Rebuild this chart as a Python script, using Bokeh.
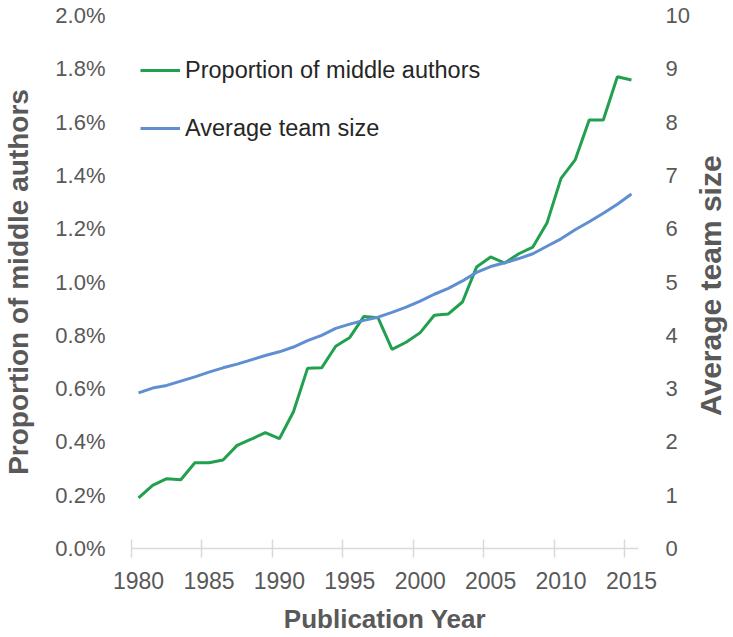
import math
from bokeh.plotting import figure
from bokeh.layouts import row
from bokeh.models import (Range1d, LinearAxis, FixedTicker, Legend, LegendItem,
                          CustomJSTickFormatter)
from bokeh.core.properties import value
from bokeh.embed import file_html
from bokeh.resources import INLINE

# ---- data ----
years = list(range(1980, 2016))
middle_author_pct = [0.190, 0.237, 0.262, 0.258, 0.322, 0.322, 0.332, 0.387, 0.410, 0.435,
                     0.412, 0.513, 0.676, 0.678, 0.759, 0.792, 0.871, 0.866, 0.747, 0.774,
                     0.810, 0.875, 0.880, 0.925, 1.056, 1.094, 1.071, 1.106, 1.131, 1.221,
                     1.389, 1.458, 1.608, 1.608, 1.770, 1.758]
avg_team_size = [2.92, 3.01, 3.06, 3.14, 3.22, 3.31, 3.39, 3.46, 3.54, 3.62,
                 3.69, 3.78, 3.90, 4.00, 4.13, 4.21, 4.28, 4.34, 4.43, 4.53,
                 4.64, 4.77, 4.88, 5.02, 5.18, 5.29, 5.36, 5.44, 5.53, 5.67,
                 5.81, 5.98, 6.13, 6.29, 6.46, 6.65]
x_tick_years = [1980, 1985, 1990, 1995, 2000, 2005, 2010, 2015]
left_ticks = [0.0, 0.2, 0.4, 0.6, 0.8, 1.0, 1.2, 1.4, 1.6, 1.8, 2.0]
right_ticks = [0, 1, 2, 3, 4, 5, 6, 7, 8, 9, 10]
right_axis_title = "Average team size"

GREEN = "#22A04F"
BLUE = "#5F8FD2"
LABEL_GRAY = "#595959"
AXIS_GRAY = "#D9D9D9"
FONT = "Liberation Sans"

p = figure(width=692, height=636, output_backend="svg", toolbar_location=None,
           x_range=Range1d(1979.5, 2015.5), y_range=Range1d(0, 2.0),
           x_axis_location=None, y_axis_location=None,
           min_border_left=129, min_border_right=52, min_border_top=15,
           min_border_bottom=87)
p.extra_y_ranges = {"team": Range1d(0, 10)}
p.xgrid.visible = False
p.ygrid.visible = False
p.outline_line_color = None
p.background_fill_color = "white"
p.border_fill_color = "white"

g = p.line(years, middle_author_pct, line_color=GREEN, line_width=3)
b = p.line(years, avg_team_size, line_color=BLUE, line_width=3, y_range_name="team")

# bottom axis
xaxis = LinearAxis(ticker=FixedTicker(ticks=x_tick_years,
                                      minor_ticks=[y - 0.5 for y in x_tick_years]),
                   axis_label="Publication Year")
xaxis.axis_line_color = AXIS_GRAY
xaxis.axis_line_width = 1.5
xaxis.major_tick_line_color = None
xaxis.major_tick_out = 0
xaxis.major_tick_in = 0
xaxis.minor_tick_line_color = AXIS_GRAY
xaxis.minor_tick_line_width = 1.5
xaxis.minor_tick_in = 9
xaxis.minor_tick_out = 9
xaxis.major_label_standoff = 14
xaxis.major_label_text_font = FONT
xaxis.major_label_text_font_size = "23px"
xaxis.major_label_text_color = LABEL_GRAY
xaxis.axis_label_standoff = 12
xaxis.axis_label_text_font = FONT
xaxis.axis_label_text_font_size = "26px"
xaxis.axis_label_text_font_style = "bold"
xaxis.axis_label_text_color = LABEL_GRAY
p.add_layout(xaxis, "below")

# left axis
yaxis = LinearAxis(ticker=FixedTicker(ticks=left_ticks),
                   formatter=CustomJSTickFormatter(code="return tick.toFixed(1) + '%';"),
                   axis_label="Proportion of middle authors")
yaxis.axis_line_color = None
yaxis.major_tick_line_color = None
yaxis.minor_tick_line_color = None
yaxis.major_tick_out = 0
yaxis.major_tick_in = 0
yaxis.major_label_standoff = 26
yaxis.major_label_text_font = FONT
yaxis.major_label_text_font_size = "22px"
yaxis.major_label_text_color = LABEL_GRAY
yaxis.axis_label_standoff = 18
yaxis.axis_label_text_font = FONT
yaxis.axis_label_text_font_size = "28px"
yaxis.axis_label_text_font_style = "bold"
yaxis.axis_label_text_color = LABEL_GRAY
p.add_layout(yaxis, "left")

# right axis: tick labels
raxis = LinearAxis(y_range_name="team", ticker=FixedTicker(ticks=right_ticks))
raxis.axis_line_color = None
raxis.major_tick_line_color = None
raxis.minor_tick_line_color = None
raxis.major_tick_out = 0
raxis.major_tick_in = 0
raxis.major_label_standoff = 27
raxis.major_label_text_font = FONT
raxis.major_label_text_font_size = "22px"
raxis.major_label_text_color = LABEL_GRAY
p.add_layout(raxis, "right")

legend = Legend(items=[LegendItem(label="Proportion of middle authors", renderers=[g]),
                       LegendItem(label="Average team size", renderers=[b])],
                location=(9, 405), glyph_width=40, glyph_height=30, label_height=30,
                spacing=28, padding=0, margin=0, label_standoff=5,
                border_line_color=None, background_fill_alpha=0,
                label_text_font=FONT, label_text_font_size="23.5px",
                label_text_color="#262626")
p.add_layout(legend)

# narrow strip holding the right axis title, reading bottom-to-top
t = figure(width=40, height=636, output_backend="svg", toolbar_location=None,
           x_range=Range1d(0, 1), y_range=Range1d(0, 1),
           x_axis_location=None, y_axis_location=None,
           min_border_left=0, min_border_right=0, min_border_top=0, min_border_bottom=0)
t.xgrid.visible = False
t.ygrid.visible = False
t.outline_line_color = None
t.background_fill_color = "white"
t.border_fill_color = "white"
t.text(x=[0.45], y=[0.493], text=[right_axis_title], angle=math.pi / 2,
       text_align="center", text_baseline="middle", text_font=value(FONT),
       text_font_size="30px", text_font_style="bold", text_color=LABEL_GRAY)

layout = row(p, t, spacing=0)
open("out.html", "w").write(file_html(layout, INLINE))
